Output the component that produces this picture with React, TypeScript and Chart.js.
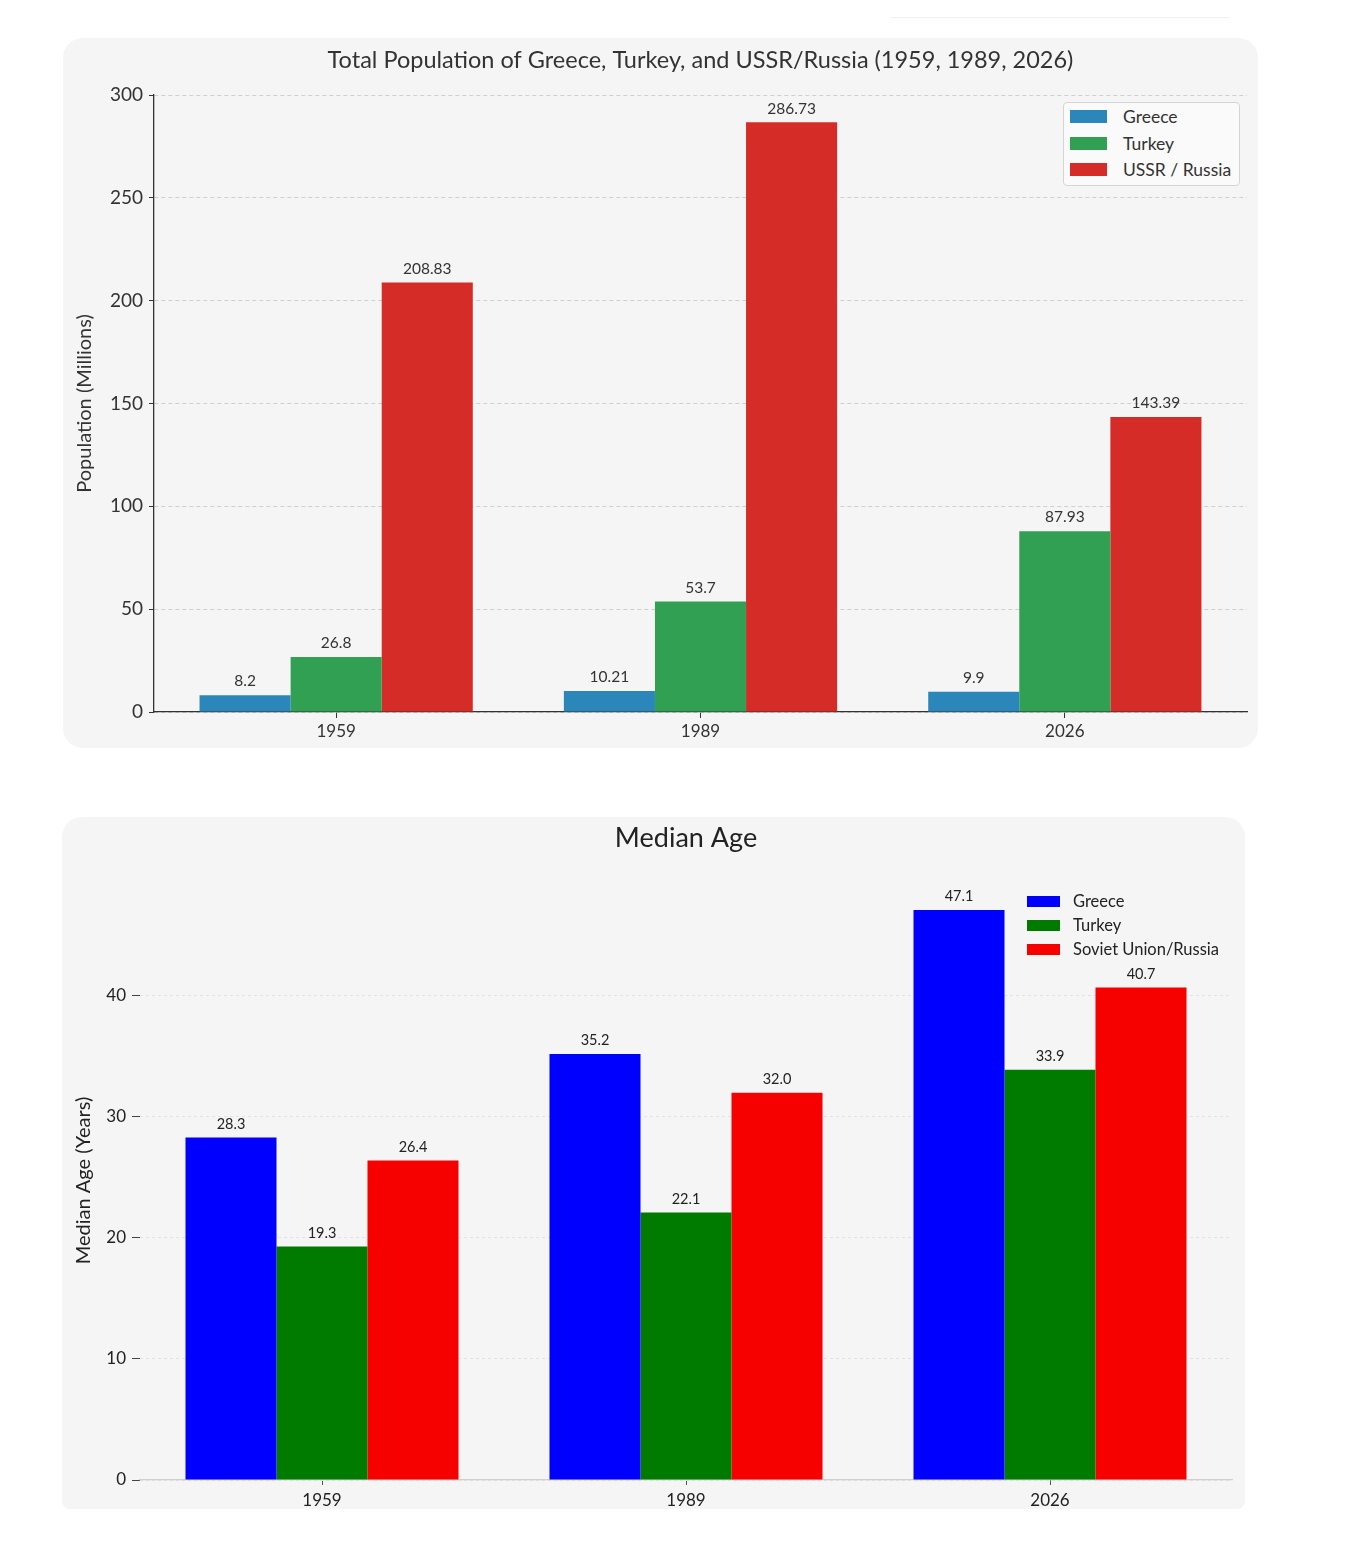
import { useEffect, useRef } from 'react';
import { Chart, registerables } from 'chart.js';

Chart.register(...registerables);

const YEARS = ['1959', '1989', '2026'];

const POP_GREECE = [8.2, 10.21, 9.9];
const POP_TURKEY = [26.8, 53.7, 87.93];
const POP_RUSSIA = [208.83, 286.73, 143.39];
const POP_TICKS = [0, 50, 100, 150, 200, 250, 300];
const POP_NAMES = ['Greece', 'Turkey', 'USSR / Russia'];
const POP_COLORS = ['#2b87ba', '#31a052', '#d62c27'];

const AGE_GREECE = [28.3, 35.2, 47.1];
const AGE_TURKEY = [19.3, 22.1, 33.9];
const AGE_RUSSIA = [26.4, 32.0, 40.7];
const AGE_TICKS = [0, 10, 20, 30, 40];
const AGE_NAMES = ['Greece', 'Turkey', 'Soviet Union/Russia'];
const AGE_COLORS = ['#0000ff', '#007b00', '#f60000'];

const FONT = 'Lato, "Open Sans", sans-serif';

// draws the value above each bar
function barLabels(fmt: (v: number) => string, size: number, color: string) {
  return {
    id: 'barLabels',
    afterDatasetsDraw(chart: any) {
      const ctx = chart.ctx;
      ctx.save();
      ctx.font = `${size}px ${FONT}`;
      ctx.fillStyle = color;
      ctx.textAlign = 'center';
      ctx.textBaseline = 'bottom';
      chart.data.datasets.forEach((ds: any, i: number) => {
        chart.getDatasetMeta(i).data.forEach((bar: any, j: number) => {
          ctx.fillText(fmt(ds.data[j]), bar.x, bar.y - 6);
        });
      });
      ctx.restore();
    },
  };
}

function PopulationChart() {
  const ref = useRef<HTMLCanvasElement>(null);

  useEffect(() => {
    if (!ref.current) return;
    const series = [POP_GREECE, POP_TURKEY, POP_RUSSIA];
    const chart = new Chart(ref.current, {
      type: 'bar',
      data: {
        labels: YEARS,
        datasets: series.map((d, i) => ({
          label: POP_NAMES[i],
          data: d,
          backgroundColor: POP_COLORS[i],
          borderWidth: 0,
          categoryPercentage: 0.75,
          barPercentage: 1,
        })),
      },
      options: {
        animation: false,
        responsive: true,
        maintainAspectRatio: false,
        layout: { padding: { top: 0, right: 11, bottom: 0, left: 0 } },
        plugins: {
          legend: { display: false },
          tooltip: { enabled: false },
          title: {
            display: true,
            fullSize: false,
            text: 'Total Population of Greece, Turkey, and USSR/Russia (1959, 1989, 2026)',
            color: '#333',
            font: { family: FONT, size: 23.5, weight: 'normal' },
            padding: { top: 8, bottom: 20.8 },
          },
        },
        scales: {
          x: {
            afterFit: (s: any) => { s.height = 36; },
            grid: { display: true, drawOnChartArea: false, offset: false, tickLength: 6, tickColor: '#333' },
            border: { display: true, color: '#333', width: 1.3 },
            ticks: { color: '#333', padding: 3, font: { family: FONT, size: 17 } },
          },
          y: {
            min: 0,
            max: 300,
            afterFit: (s: any) => { s.width = 91; },
            afterBuildTicks: (axis: any) => { axis.ticks = POP_TICKS.map(v => ({ value: v })); },
            grid: { color: '#cfcfcf', tickColor: '#333', tickLength: 5, lineWidth: 1 },
            border: { display: true, color: '#333', width: 1.3, dash: [4, 3] },
            ticks: { color: '#333', padding: 6, font: { family: FONT, size: 19 } },
            title: {
              display: true,
              text: 'Population (Millions)',
              color: '#333',
              font: { family: FONT, size: 20 },
              padding: { top: 10, bottom: 0 },
            },
          },
        },
      },
      plugins: [barLabels(v => String(v), 15.5, '#333')],
    });
    return () => chart.destroy();
  }, []);

  return (
    <div style={{ position: 'absolute', left: 55, top: 30, width: 1195, height: 710, background: '#f5f5f5', borderRadius: 20 }}>
      <div style={{ position: 'relative', width: 1195, height: 710 }}>
        <canvas ref={ref} />
      </div>
      <div style={{ position: 'absolute', left: 1000, top: 64, width: 175, height: 82, background: '#fafafa', border: '1px solid #d4d4d4', borderRadius: 4, fontFamily: FONT, fontSize: 17.5, color: '#333' }}>
        {POP_NAMES.map((n, i) => (
          <div key={n} style={{ position: 'absolute', left: 0, top: 3 + i * 26.5, height: 22, width: 175 }}>
            <div style={{ position: 'absolute', left: 6, top: 4, width: 37, height: 13, background: POP_COLORS[i] }} />
            <div style={{ position: 'absolute', left: 59, top: 0, lineHeight: '22px', whiteSpace: 'nowrap' }}>{n}</div>
          </div>
        ))}
      </div>
    </div>
  );
}

function AgeChart() {
  const ref = useRef<HTMLCanvasElement>(null);

  useEffect(() => {
    if (!ref.current) return;
    const series = [AGE_GREECE, AGE_TURKEY, AGE_RUSSIA];
    const chart = new Chart(ref.current, {
      type: 'bar',
      data: {
        labels: YEARS,
        datasets: series.map((d, i) => ({
          label: AGE_NAMES[i],
          data: d,
          backgroundColor: AGE_COLORS[i],
          borderWidth: 0,
          categoryPercentage: 0.75,
          barPercentage: 1,
        })),
      },
      options: {
        animation: false,
        responsive: true,
        maintainAspectRatio: false,
        layout: { padding: { top: 0, right: 13, bottom: 0, left: 0 } },
        plugins: {
          legend: { display: false },
          tooltip: { enabled: false },
          title: {
            display: true,
            fullSize: false,
            text: 'Median Age',
            color: '#222',
            font: { family: FONT, size: 27, weight: 'normal' },
            padding: { top: 5, bottom: 26.6 },
          },
        },
        scales: {
          x: {
            afterFit: (s: any) => { s.height = 29; },
            grid: { display: true, drawOnChartArea: false, offset: false, tickLength: 5, tickColor: '#555' },
            border: { display: true, color: '#cfcfcf', width: 1.2 },
            ticks: { color: '#222', padding: 5, font: { family: FONT, size: 17 } },
          },
          y: {
            min: 0,
            max: 49.5,
            afterFit: (s: any) => { s.width = 78; },
            afterBuildTicks: (axis: any) => { axis.ticks = AGE_TICKS.map(v => ({ value: v })); },
            grid: { color: '#e2e2e2', tickColor: '#444', tickLength: 8, lineWidth: 1 },
            border: { display: false, dash: [3, 3] },
            ticks: { color: '#222', padding: 6, font: { family: FONT, size: 17 } },
            title: {
              display: true,
              text: 'Median Age (Years)',
              color: '#222',
              font: { family: FONT, size: 20 },
              padding: { top: 10, bottom: 0 },
            },
          },
        },
      },
      plugins: [barLabels(v => v.toFixed(1), 14.5, '#222')],
    });
    return () => chart.destroy();
  }, []);

  return (
    <div style={{ position: 'absolute', left: 54, top: 809, width: 1183, height: 692, background: '#f5f5f5', borderRadius: '20px 20px 8px 8px', overflow: 'hidden' }}>
      <div style={{ position: 'relative', width: 1183, height: 692 }}>
        <canvas ref={ref} />
      </div>
      {AGE_NAMES.map((n, i) => (
        <div key={n} style={{ position: 'absolute', left: 965, top: 73 + i * 24, height: 22, width: 220, fontFamily: FONT, fontSize: 16.5, color: '#222' }}>
          <div style={{ position: 'absolute', left: 0, top: 6, width: 33, height: 11, background: AGE_COLORS[i] }} />
          <div style={{ position: 'absolute', left: 46, top: 0, lineHeight: '22px', whiteSpace: 'nowrap' }}>{n}</div>
        </div>
      ))}
    </div>
  );
}

export default function App() {
  return (
    <div style={{ position: 'relative', width: 1349, height: 1536 }}>
      <div style={{ position: 'absolute', left: 882, top: 9, width: 340, height: 1, background: '#f0f0f0' }} />
      <PopulationChart />
      <AgeChart />
    </div>
  );
}
